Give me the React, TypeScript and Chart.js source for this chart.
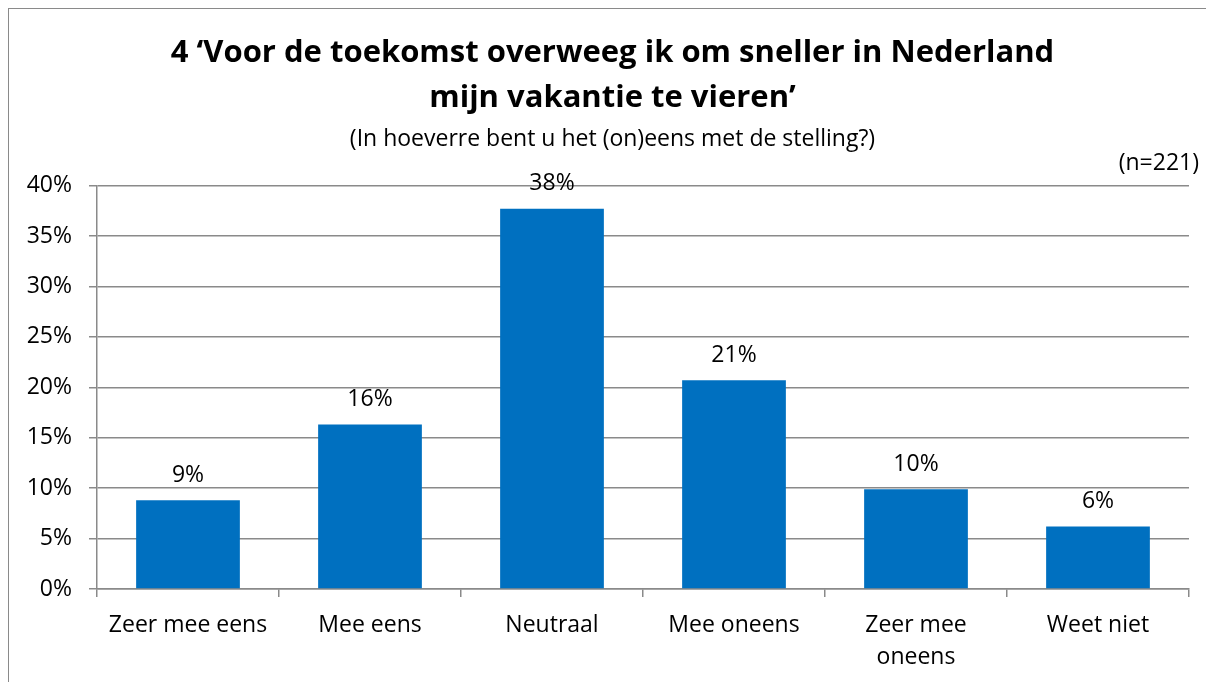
import React, { useEffect, useRef } from "react";
import { Chart, registerables } from "chart.js";

Chart.register(...registerables);

const titleLines = ["4 \u2018Voor de toekomst overweeg ik om sneller in Nederland", "mijn vakantie te vieren\u2019"];
const subtitleText = "(In hoeverre bent u het (on)eens met de stelling?)";
const sampleText = "(n=221)";
const categories: (string | string[])[] = ["Zeer mee eens", "Mee eens", "Neutraal", "Mee oneens", ["Zeer mee", "oneens"], "Weet niet"];
const values = [8.8, 16.3, 37.7, 20.7, 9.9, 6.2];
const yTicksMax = 40;
const yTickStep = 5;

const FONT = "'Open Sans', 'Noto Sans', sans-serif";
const GRID = "#8a8a8a";
const TXT = 23;

export default function App() {
  const ref = useRef<HTMLCanvasElement>(null);
  useEffect(() => {
    document.body.style.overflow = "hidden";
    const canvas = ref.current!;
    const labelPlugin = {
      id: "extras",
      afterLayout(chart: any) {
        // centre the title block on the whole frame rather than on the padded box
        chart.boxes.forEach((b: any) => {
          if (b.position === "top" && b.options && b.options.text !== undefined) {
            b.left += 27;
          }
        });
      },
      afterDatasetsDraw(chart: any) {
        const ctx = chart.ctx;
        ctx.save();
        ctx.fillStyle = "#000";
        ctx.font = `${TXT}px ${FONT}`;
        ctx.textAlign = "center";
        ctx.textBaseline = "middle";
        const meta = chart.getDatasetMeta(0);
        meta.data.forEach((bar: any, i: number) => {
          ctx.fillText(Math.round(values[i]) + "%", bar.x, bar.y - 25);
        });
        ctx.textAlign = "right";
        ctx.fillText(sampleText, chart.chartArea.right + 10, chart.chartArea.top - 22);
        ctx.restore();
      },
    };
    const chart = new Chart(canvas, {
      type: "bar",
      data: {
        labels: categories,
        datasets: [
          {
            data: values,
            backgroundColor: "#0070C0",
            borderWidth: 0,
            barPercentage: 0.57,
            categoryPercentage: 1,
          },
        ],
      },
      options: {
        responsive: false,
        animation: false,
        layout: { padding: { top: 0, left: 0, right: 25, bottom: 0 } },
        plugins: {
          legend: { display: false },
          tooltip: { enabled: false },
          title: {
            display: true,
            text: titleLines,
            color: "#000",
            font: { family: FONT, size: 31, weight: "bold", lineHeight: 45 / 31 },
            padding: { top: 22, bottom: 0 },
          },
          subtitle: {
            display: true,
            text: subtitleText,
            color: "#000",
            font: { family: FONT, size: TXT, lineHeight: 1.2 },
            padding: { top: 5, bottom: 32 },
          },
        },
        scales: {
          x: {
            grid: { offset: true, drawOnChartArea: false, drawTicks: true, tickLength: 8, color: GRID, lineWidth: 1.5 },
            border: { display: true, color: GRID, width: 1.5 },
            ticks: { color: "#000", padding: 12, font: { family: FONT, size: TXT, lineHeight: 32 / TXT }, maxRotation: 0, autoSkip: false },
            afterFit: (s: any) => { s.height = 93; },
          },
          y: {
            min: 0,
            max: yTicksMax,
            grid: { color: GRID, lineWidth: 1.5, tickLength: 8 },
            border: { display: true, color: GRID, width: 1.5 },
            ticks: { stepSize: yTickStep, color: "#000", padding: 17, font: { family: FONT, size: TXT }, callback: (v: any) => v + "%" },
            afterFit: (s: any) => { s.width = 88; },
          },
        },
      },
      plugins: [labelPlugin],
    });
    return () => chart.destroy();
  }, []);
  return (
    <div style={{ border: "1px solid #8a8a8a", width: 1205, height: 673, background: "#fff" }}>
      <canvas ref={ref} width={1205} height={673} style={{ display: "block" }} />
    </div>
  );
}
